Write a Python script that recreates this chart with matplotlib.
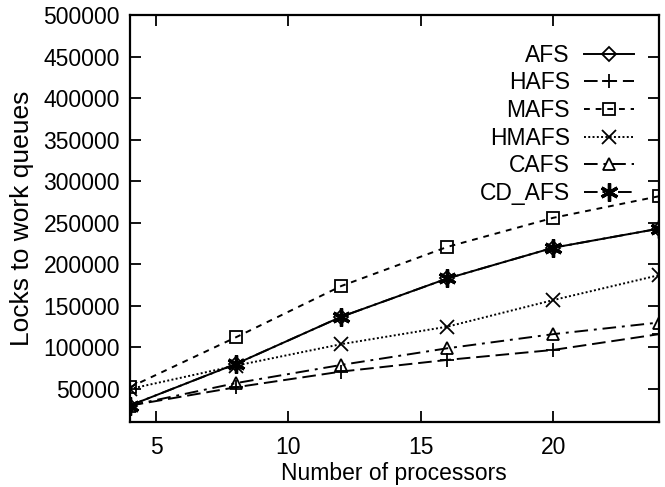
import matplotlib
matplotlib.use("Agg")
import matplotlib.pyplot as plt

# processor counts
procs = [4, 8, 12, 16, 20, 24]

# locks to work queues
afs = [30000, 80000, 137000, 183000, 220000, 243000]
hafs = [30000, 52000, 71000, 85000, 97000, 116000]
mafs = [52000, 112000, 174000, 221000, 256000, 282000]
hmafs = [50000, 78000, 104000, 125000, 157000, 187000]
cafs = [30000, 57000, 79000, 99000, 116000, 130000]
cd_afs = [30000, 80000, 137000, 183000, 220000, 243000]

x_ticks = [5, 10, 15, 20]
y_ticks = [50000, 100000, 150000, 200000, 250000, 300000, 350000, 400000, 450000, 500000]

plt.rcParams["font.family"] = ["Liberation Sans", "DejaVu Sans"]

fig = plt.figure(figsize=(6.65, 4.87), dpi=100)
ax = fig.add_axes([0.195, 0.133, 0.796, 0.836])

lw = 1.4
style = dict(color="black", lw=lw, markerfacecolor="none",
             markeredgecolor="black", markeredgewidth=1.3)

ax.plot(procs, afs, label="AFS", marker="D", markersize=7, **style)
ax.plot(procs, hafs, label="HAFS", marker="+", markersize=10, dashes=(7, 3), **style)
ax.plot(procs, mafs, label="MAFS", marker="s", markersize=9, dashes=(3, 3), **style)
ax.plot(procs, hmafs, label="HMAFS", marker="x", markersize=10, dashes=(1, 1.2), **style)
ax.plot(procs, cafs, label="CAFS", marker="^", markersize=9,
        dashes=(7, 3, 1.5, 3), **style)
ax.plot(procs, cd_afs, label="CD_AFS", marker=(6, 2, 0), markersize=13,
        dashes=(7, 2.5, 1.5, 2.5, 1.5, 2.5), color="black", lw=lw,
        markeredgecolor="black", markeredgewidth=2.4)

ax.set_xlim(4, 24)
ax.set_ylim(10000, 500000)
ax.set_xticks(x_ticks)
ax.set_yticks(y_ticks)
ax.set_yticklabels([str(v) for v in y_ticks])
ax.tick_params(direction="in", length=8, width=1.3, top=True, right=True,
               labelsize=16.5)
ax.tick_params(axis="x", pad=10)
ax.tick_params(axis="y", pad=7)
for s in ax.spines.values():
    s.set_linewidth(1.6)

ax.set_xlabel("Number of processors", fontsize=16.5, labelpad=2)
ax.set_ylabel("Locks to work queues", fontsize=19, labelpad=7)

leg = ax.legend(loc="upper right", bbox_to_anchor=(0.97, 0.952), frameon=False,
                markerfirst=False, fontsize=16.5, handlelength=2.2,
                labelspacing=0.2, handletextpad=0.6, borderaxespad=0)

fig.savefig("out.png", dpi=100)
